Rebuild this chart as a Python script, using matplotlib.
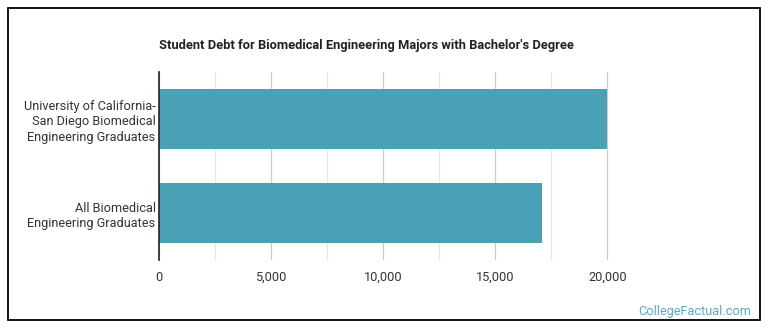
import matplotlib
matplotlib.use("Agg")
import matplotlib.pyplot as plt
from matplotlib.patches import Rectangle
from matplotlib.ticker import MultipleLocator, FuncFormatter

categories = ["University of California-\nSan Diego Biomedical\nEngineering Graduates",
              "All Biomedical\nEngineering Graduates"]
values = [20000, 17100]
title = "Student Debt for Biomedical Engineering Majors with Bachelor's Degree"

plt.rcParams['font.family'] = ['Roboto', 'DejaVu Sans']

fig = plt.figure(figsize=(7.7, 3.35), dpi=100)
ax = fig.add_axes([159/770, 1-260/335, (613-159)/770, (260-72)/335])

ypos = list(range(len(categories)))
ax.barh(ypos, values, height=0.64, color="#4aa0b4", zorder=3)
ax.set_ylim(1.5, -0.5)
ax.set_xlim(0, 20250)
ax.set_yticks(ypos)
ax.set_yticklabels(categories, fontsize=9.2, color="#333333", linespacing=1.25)

ax.xaxis.set_major_locator(MultipleLocator(5000))
ax.xaxis.set_minor_locator(MultipleLocator(2500))
ax.xaxis.set_major_formatter(FuncFormatter(lambda v, p: f"{int(v):,}"))
ax.tick_params(axis='x', which='both', length=0, labelsize=9.2, labelcolor="#333333", pad=8)
ax.tick_params(axis='y', length=0, pad=2.5)
ax.grid(axis='x', which='major', color="#cccccc", lw=0.9, zorder=0)
ax.grid(axis='x', which='minor', color="#e6e6e6", lw=0.9, zorder=0)
for s in ['top', 'right', 'bottom']:
    ax.spines[s].set_visible(False)
ax.spines['left'].set_color("#222222")
ax.spines['left'].set_linewidth(1.2)
ax.spines['left'].set_zorder(4)

fig.text(366/770, 1-45/335, title, ha='center', va='center', fontsize=9.3,
         fontweight='bold', color="#222222")
fig.text(751/770, 1-312/335, "CollegeFactual.com", ha='right', va='center',
         fontsize=9.2, color="#5aaac0")

fig.patches.append(Rectangle((8/770, 1-320/335), (760-8)/770, (320-8)/335,
                             transform=fig.transFigure, fill=False,
                             edgecolor="black", lw=1.3))

fig.savefig("out.png", dpi=100)
